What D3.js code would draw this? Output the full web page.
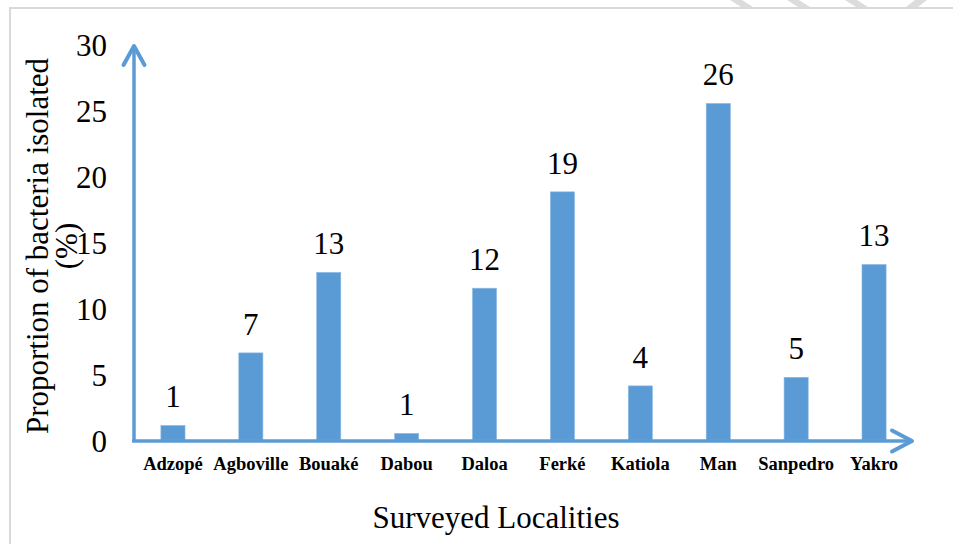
<!DOCTYPE html>
<html>
<head>
<meta charset="utf-8">
<script src="https://cdn.jsdelivr.net/npm/d3@7"></script>
<style>
  html, body { margin: 0; padding: 0; background: #fff; }
  svg { display: block; }
</style>
</head>
<body>
<svg id="chart" width="953" height="544"></svg>
<script>
// ---- data ----
const categories = ["Adzopé", "Agboville", "Bouaké", "Dabou", "Daloa", "Ferké", "Katiola", "Man", "Sanpedro", "Yakro"];
const values = [1.1, 6.6, 12.7, 0.5, 11.5, 18.8, 4.1, 25.5, 4.75, 13.3];
const valueLabels = ["1", "7", "13", "1", "12", "19", "4", "26", "5", "13"];
const yTicks = [0, 5, 10, 15, 20, 25, 30];
const yTitleLines = ["Proportion of bacteria isolated", "(%)"];
const xTitle = "Surveyed Localities";

const FONT = '"Liberation Serif"';
const blue = "#5b9bd5";
const svg = d3.select("#chart");

// frame & decoration
svg.append("path")
  .attr("d", "M10,544 L10,8 L953,8")
  .attr("fill", "none").attr("stroke", "#d9d9d9").attr("stroke-width", 2);
const stripes = [[730, 743], [787, 800], [845, 858]];
stripes.forEach(([a, b]) => {
  svg.append("polygon")
    .attr("points", `${a},0 ${a + 12},0 ${b + 10},7 ${b - 2},7`)
    .attr("fill", "#dcdcdc");
});
svg.append("polygon").attr("points", "915,0 927,0 918,7 906,7").attr("fill", "#dcdcdc");

// scales
const x = d3.scaleBand().domain(categories).range([134, 913]).paddingInner(0.69).paddingOuter(0.345);
const y = d3.scaleLinear().domain([0, 30]).range([440, 44]);

// bars
svg.append("g").selectAll("rect").data(values).join("rect")
  .attr("x", (d, i) => x(categories[i]))
  .attr("y", d => y(d))
  .attr("width", x.bandwidth())
  .attr("height", d => y(0) - y(d))
  .attr("fill", blue)
  .attr("stroke", "#8fbbe6").attr("stroke-width", 0.6);

// value labels
svg.append("g").selectAll("text").data(values).join("text")
  .attr("x", (d, i) => x(categories[i]) + x.bandwidth() / 2)
  .attr("y", d => y(d) - 18)
  .attr("text-anchor", "middle")
  .style("font-family", FONT)
  .style("font-size", "31px")
  .attr("fill", "#000")
  .text((d, i) => valueLabels[i]);

// y axis tick labels
const yAxis = d3.axisLeft(y).tickValues(yTicks).tickSize(0).tickPadding(27).tickFormat(d3.format("d"));
const gy = svg.append("g").attr("transform", "translate(134,0)").call(yAxis);
gy.select(".domain").remove();
gy.selectAll("text")
  .attr("dy", null).attr("y", 11)
  .style("font-family", FONT)
  .style("font-size", "31px").attr("fill", "#000");

// x axis tick labels
const xAxis = d3.axisBottom(x).tickSize(0).tickPadding(0);
const gx = svg.append("g").attr("transform", "translate(0,440)").call(xAxis);
gx.select(".domain").remove();
gx.selectAll("text")
  .attr("dy", null).attr("y", 30)
  .style("font-family", FONT)
  .style("font-size", "18.5px").style("font-weight", "bold").attr("fill", "#000");

// axis lines with arrows
const x0 = 134, yb = y(0), yTop = 45, xEnd = 913;
svg.append("path")
  .attr("d", `M${x0},${yb + 1} L${x0},${yTop + 1}`)
  .attr("stroke", blue).attr("stroke-width", 3.5).attr("fill", "none");
svg.append("path")
  .attr("d", `M${x0 - 10.5},${yTop + 20} L${x0},${yTop + 1} L${x0 + 10.5},${yTop + 20}`)
  .attr("stroke", blue).attr("stroke-width", 4).attr("fill", "none").attr("stroke-linecap", "round").attr("stroke-linejoin", "round");
svg.append("path")
  .attr("d", `M${x0 - 2},${yb + 1} L${xEnd - 1},${yb + 1}`)
  .attr("stroke", blue).attr("stroke-width", 3.5).attr("fill", "none");
svg.append("path")
  .attr("d", `M${xEnd - 21},${yb - 9.5} L${xEnd - 1},${yb + 1} L${xEnd - 21},${yb + 11.5}`)
  .attr("stroke", blue).attr("stroke-width", 4).attr("fill", "none").attr("stroke-linecap", "round").attr("stroke-linejoin", "round");

// y title (two lines, rotated)
const yCenter = 246;
[48, 77].forEach((bx, i) => {
  svg.append("text")
    .attr("transform", `translate(${bx},${yCenter}) rotate(-90)`)
    .attr("text-anchor", "middle")
    .style("font-family", FONT)
    .style("font-size", "31px")
    .attr("fill", "#000")
    .text(yTitleLines[i]);
});

// x title
svg.append("text")
  .attr("x", 496).attr("y", 528)
  .attr("text-anchor", "middle")
  .style("font-family", FONT)
  .style("font-size", "31px")
  .attr("fill", "#000")
  .text(xTitle);
</script>
</body>
</html>
